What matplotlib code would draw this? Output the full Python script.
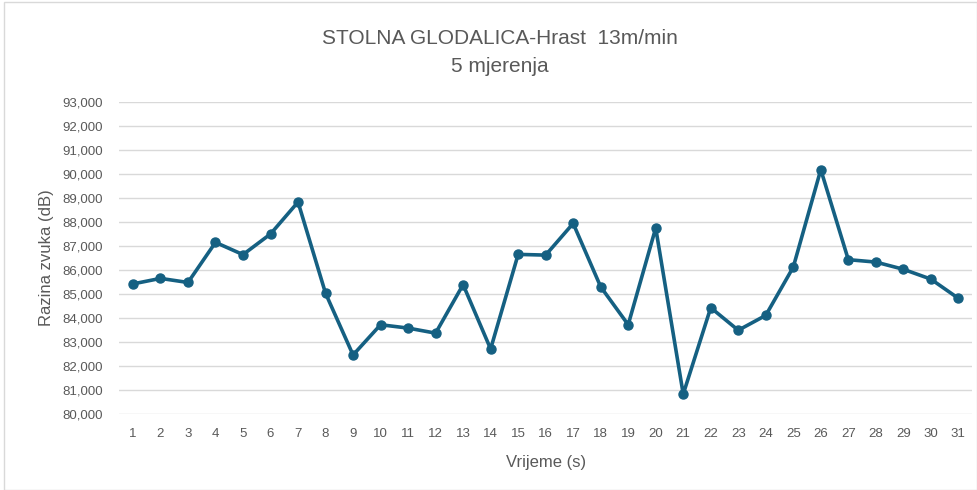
import numpy as np
import matplotlib.pyplot as plt
from matplotlib.patches import Rectangle
from matplotlib.ticker import FuncFormatter

plt.rcParams['font.family'] = ['Liberation Sans', 'DejaVu Sans']

title = "STOLNA GLODALICA-Hrast  13m/min\n5 mjerenja"
x_label = "Vrijeme (s)"
y_label = "Razina zvuka (dB)"

seconds = list(range(1, 32))
levels = [85.42, 85.65, 85.48, 87.15, 86.64, 87.50, 88.83, 85.03, 82.46, 83.72,
          83.58, 83.37, 85.39, 82.71, 86.65, 86.62, 87.94, 85.30, 83.72, 87.75,
          80.83, 84.43, 83.49, 84.11, 86.12, 90.18, 86.43, 86.33, 86.03, 85.62,
          84.82]

line_col = '#156082'
txt_col = '#595959'


def main():
    fig = plt.figure(figsize=(9.77, 4.9), dpi=100)
    ax = fig.add_axes([0.122, 0.155, 0.873, 0.637])

    ax.plot(seconds, levels, color=line_col, linewidth=2.6, marker='o',
            markersize=6.5, zorder=3)

    ax.set_xlim(0.5, 31.5)
    ax.set_ylim(80, 93)
    ax.set_xticks(seconds)
    ax.set_yticks(np.arange(80, 94, 1))
    ax.yaxis.set_major_formatter(FuncFormatter(lambda v, p: f"{v:.3f}".replace('.', ',')))
    ax.grid(axis='y', color='#D9D9D9', linewidth=1)
    ax.set_axisbelow(True)
    for s in ax.spines.values():
        s.set_visible(False)
    ax.tick_params(length=0, labelsize=9.5, labelcolor=txt_col)
    ax.tick_params(axis='x', pad=10)
    ax.tick_params(axis='y', pad=12)

    ax.set_xlabel(x_label, fontsize=12, color=txt_col, labelpad=11)
    ax.set_ylabel(y_label, fontsize=12, color=txt_col, labelpad=6)

    fig.text(0.512, 0.893, title, ha='center', va='center', fontsize=15,
             color=txt_col, linespacing=1.55)

    fig.patches.append(Rectangle((0.004, 0.0), 0.996, 0.996, transform=fig.transFigure,
                                 fill=False, edgecolor='#D9D9D9', linewidth=1))

    plt.savefig('out.png', dpi=100)


if __name__ == "__main__":
    main()
